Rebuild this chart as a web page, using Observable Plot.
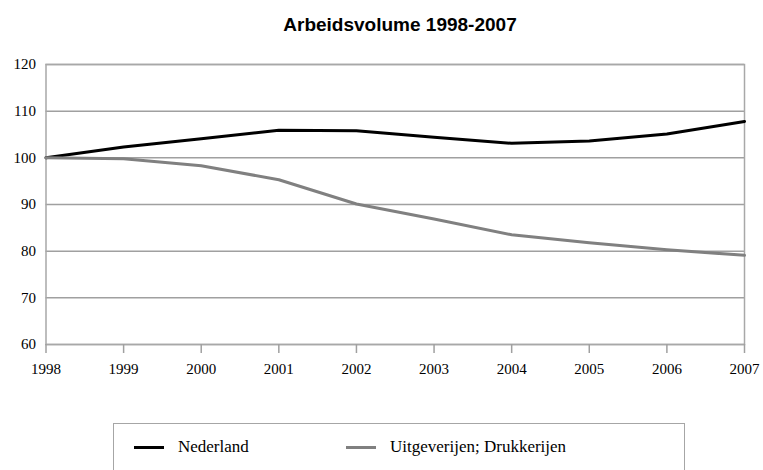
<!DOCTYPE html>
<html>
<head>
<meta charset="utf-8">
<script src="https://cdn.jsdelivr.net/npm/d3@7"></script>
<script src="https://cdn.jsdelivr.net/npm/@observablehq/plot@0.6"></script>
<style>
  html, body { margin: 0; padding: 0; background: #fff; width: 763px; height: 470px; overflow: hidden; position: relative; }
  #title { position: absolute; left: 37px; width: 726px; top: 14px; text-align: center; font: bold 19px "Liberation Sans", Arial, sans-serif; color: #000; }
  #chart { position: absolute; left: 0; top: 50px; }
  #chart svg text { font-family: "Liberation Serif", "DejaVu Serif", serif; }
  #legend { position: absolute; left: 113px; top: 423px; width: 572px; height: 60px; border: 1px solid #a6a6a6; box-sizing: border-box; font: 17px "Liberation Serif", "DejaVu Serif", serif; color: #000; }
  .item { position: absolute; top: 13px; display: flex; align-items: center; }
  .swatch { width: 30px; height: 3px; margin-right: 14px; }
</style>
</head>
<body>
<div id="title">Arbeidsvolume 1998-2007</div>
<div id="chart"></div>
<div id="legend"></div>
<script>
const years = [1998, 1999, 2000, 2001, 2002, 2003, 2004, 2005, 2006, 2007];
const seriesNames = ["Nederland", "Uitgeverijen; Drukkerijen"];
const nederland = [100, 102.3, 104.1, 105.9, 105.8, 104.4, 103.1, 103.6, 105.1, 107.8];
const uitgeverijen = [100, 99.8, 98.3, 95.3, 90.1, 86.9, 83.5, 81.8, 80.3, 79.1];
const seriesColors = ["#000000", "#808080"];
const yTicks = [60, 70, 80, 90, 100, 110, 120];

const data = [];
years.forEach((y, i) => {
  data.push({year: y, value: nederland[i], series: seriesNames[0]});
  data.push({year: y, value: uitgeverijen[i], series: seriesNames[1]});
});

const serif = "'Liberation Serif', 'DejaVu Serif', serif";
const chart = Plot.plot({
  width: 763,
  height: 340,
  marginTop: 14,
  marginBottom: 46,
  marginLeft: 45.5,
  marginRight: 19,
  style: {fontFamily: serif, fontSize: "15px", color: "#000", background: "#fff"},
  x: {domain: [1998, 2007]},
  y: {domain: [60, 120]},
  color: {domain: seriesNames, range: seriesColors},
  marks: [
    Plot.ruleY(yTicks, {stroke: "#a0a0a0", strokeWidth: 1.5}),
    Plot.frame({stroke: "#a8a8a8", strokeWidth: 1.5}),
    Plot.axisY({ticks: yTicks, tickSize: 0, tickPadding: 10, label: null, fill: "#000", fontFamily: serif, fontSize: 15}),
    Plot.axisX({ticks: years, tickFormat: d => String(d), tickSize: 9, tickPadding: 10, label: null, stroke: "#a0a0a0", strokeWidth: 1.5, fill: "#000", fontFamily: serif, fontSize: 15}),
    Plot.line(data, {x: "year", y: "value", z: "series", stroke: "series", strokeWidth: 3, strokeLinejoin: "round"})
  ]
});
document.getElementById("chart").appendChild(chart);

const legend = document.getElementById("legend");
const itemLeft = [20, 232];
seriesNames.forEach((name, i) => {
  const it = document.createElement("div");
  it.className = "item";
  it.style.left = itemLeft[i] + "px";
  const sw = document.createElement("div");
  sw.className = "swatch";
  sw.style.background = seriesColors[i];
  const tx = document.createElement("span");
  tx.textContent = name;
  it.appendChild(sw);
  it.appendChild(tx);
  legend.appendChild(it);
});
</script>
</body>
</html>
